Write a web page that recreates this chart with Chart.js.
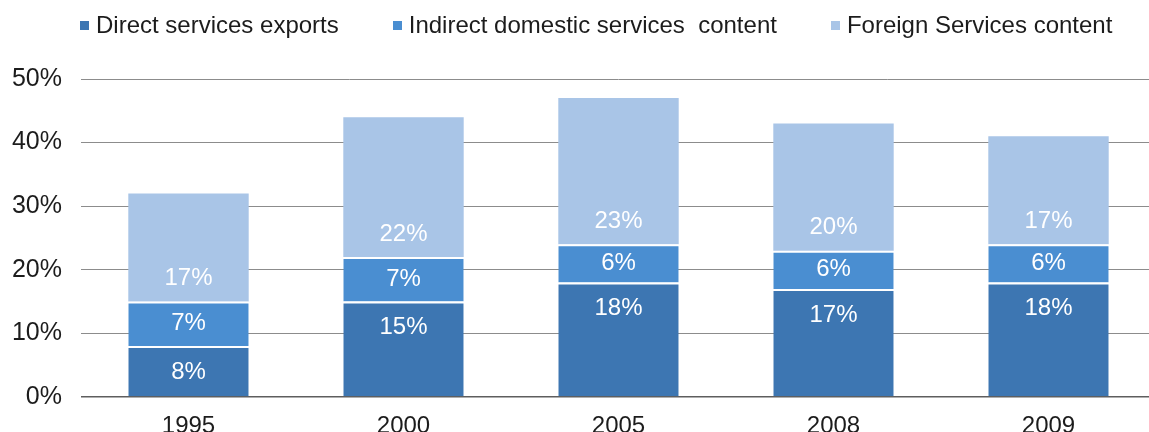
<!DOCTYPE html>
<html>
<head>
<meta charset="utf-8">
<script src="https://cdn.jsdelivr.net/npm/chart.js@4.4.1/dist/chart.umd.min.js"></script>
<style>
  body { margin: 0; background: #fff; overflow: hidden; }
  #wrap { position: relative; width: 1149px; height: 432px; overflow: hidden; }
  #legenda {
    position: absolute; left: 80px; top: 11px;
    display: flex; align-items: center;
    font: 24px "Liberation Sans", Arial, sans-serif; color: #1c1c1c;
    white-space: pre; line-height: 28px;
  }
  .item { display: flex; align-items: center; margin-right: 54px; }
  .caixa { width: 9px; height: 9px; margin-right: 7px; }
  canvas { position: absolute; left: 0; top: 0; }
</style>
</head>
<body>
<div id="wrap">
  <canvas id="grafico" width="1157" height="432"></canvas>
  <div id="legenda"></div>
</div>
<script>
// === Dados ===
const anos = ["1995", "2000", "2005", "2008", "2009"];
const diretos = [8, 15, 18, 17, 18];
const indiretos = [7, 7, 6, 6, 6];
const estrangeiros = [17, 22, 23, 20, 17];
const nomesSeries = ["Direct services exports", "Indirect domestic services  content", "Foreign Services content"];
const coresSeries = ["#3d76b2", "#4a8ed1", "#a9c5e7"];
const ticksY = [0, 10, 20, 30, 40, 50];

const FONTE = '"Liberation Sans", Arial, sans-serif';

// === Legenda ===
document.getElementById("legenda").innerHTML = nomesSeries.map((nome, i) =>
    `<div class="item"><span class="caixa" style="background:${coresSeries[i]}"></span>${nome}</div>`
).join("");

// === Rótulos dentro das barras ===
const rotulos = {
    id: 'rotulos',
    afterDatasetsDraw(chart) {
        const ctx = chart.ctx;
        ctx.save();
        ctx.font = '24px ' + FONTE;
        ctx.fillStyle = '#fff';
        ctx.textAlign = 'center';
        ctx.textBaseline = 'middle';
        chart.data.datasets.forEach((ds, i) => {
            chart.getDatasetMeta(i).data.forEach((bar, j) => {
                let y;
                if (ds.posRotulo === 'topo') y = bar.y + 26;
                else if (ds.posRotulo === 'base') y = bar.base - 23;
                else y = (bar.y + bar.base) / 2;
                ctx.fillText(ds.data[j] + '%', bar.x, y);
            });
        });
        ctx.restore();
    }
};

function serie(i, dados, pos, borda) {
    return {
        label: nomesSeries[i],
        data: dados,
        backgroundColor: coresSeries[i],
        borderColor: '#fff',
        borderWidth: borda ? { top: 2, left: 0, right: 0, bottom: 0 } : 0,
        borderSkipped: false,
        posRotulo: pos
    };
}

new Chart(document.getElementById("grafico"), {
    type: 'bar',
    data: {
        labels: anos,
        datasets: [
            serie(0, diretos, 'topo', true),
            serie(1, indiretos, 'meio', true),
            serie(2, estrangeiros, 'base', false)
        ]
    },
    options: {
        responsive: false,
        animation: false,
        layout: { padding: { top: 79, right: 1, left: 0, bottom: 0 } },
        datasets: { bar: { barPercentage: 0.56, categoryPercentage: 1 } },
        plugins: { legend: { display: false }, tooltip: { enabled: false } },
        scales: {
            x: {
                stacked: true,
                grid: { display: false },
                border: { display: false },
                ticks: { color: '#1c1c1c', font: { family: FONTE, size: 24 }, padding: 7 },
                afterFit(s) { s.height = 35; }
            },
            y: {
                stacked: true,
                min: ticksY[0],
                max: ticksY[ticksY.length - 1],
                grid: {
                    drawTicks: false,
                    color: c => c.tick && c.tick.value === 0 ? '#5e5e5e' : '#8c8c8c',
                    lineWidth: c => c.tick && c.tick.value === 0 ? 1.5 : 1
                },
                border: { display: false },
                ticks: {
                    stepSize: ticksY[1] - ticksY[0],
                    color: '#1c1c1c',
                    font: { family: FONTE, size: 25 },
                    padding: 19,
                    callback: v => v + '%'
                },
                afterFit(s) { s.width = 81; }
            }
        }
    },
    plugins: [rotulos]
});
</script>
</body>
</html>
